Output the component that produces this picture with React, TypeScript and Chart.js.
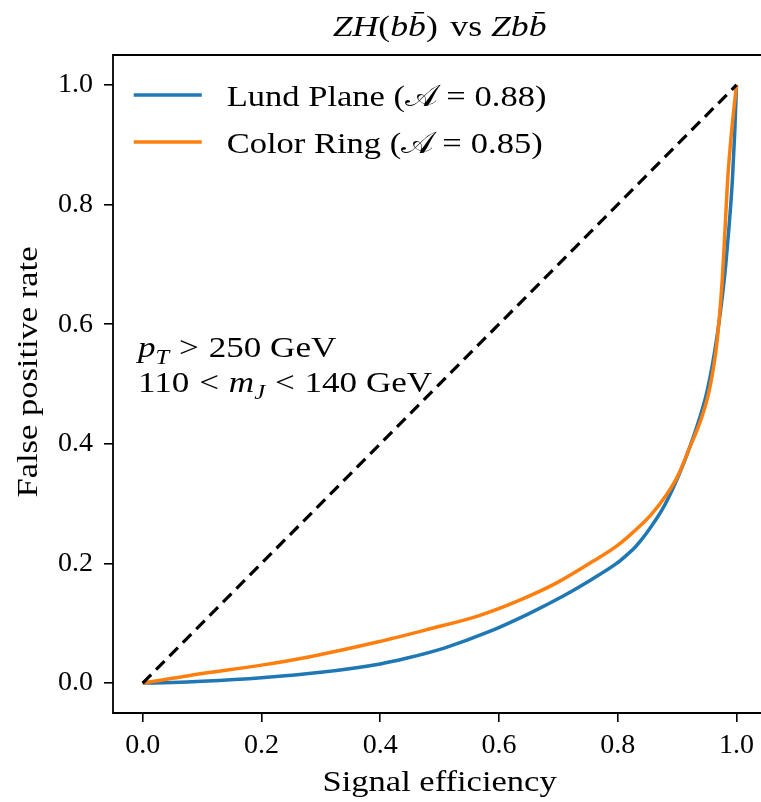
import React, { useEffect, useRef } from "react";
import { Chart, registerables } from "chart.js";
Chart.register(...registerables);

// ---- data ----
const tickValues = [0, 0.2, 0.4, 0.6, 0.8, 1.0];

const lundEff = [0, 0.05, 0.1, 0.2, 0.3, 0.4, 0.442, 0.509, 0.581, 0.648, 0.709, 0.754, 0.798, 0.815, 0.83, 0.848, 0.876, 0.895, 0.912, 0.932, 0.948, 0.959, 0.968, 0.976, 0.982, 0.988, 0.993, 0.997, 1.0];
const lundFpr = [0, 0.001, 0.003, 0.009, 0.018, 0.032, 0.041, 0.059, 0.085, 0.115, 0.146, 0.172, 0.200, 0.214, 0.228, 0.250, 0.292, 0.330, 0.370, 0.425, 0.478, 0.530, 0.585, 0.645, 0.70, 0.77, 0.84, 0.92, 1.0];

const ringEff = [0, 0.05, 0.1, 0.2, 0.286, 0.397, 0.481, 0.564, 0.631, 0.698, 0.759, 0.798, 0.82, 0.854, 0.881, 0.901, 0.92, 0.94, 0.952, 0.96, 0.966, 0.971, 0.976, 0.980, 0.985, 0.992, 1.0];
const ringFpr = [0, 0.008, 0.016, 0.030, 0.045, 0.069, 0.090, 0.112, 0.137, 0.168, 0.204, 0.229, 0.247, 0.279, 0.313, 0.346, 0.391, 0.44, 0.48, 0.52, 0.56, 0.61, 0.674, 0.745, 0.84, 0.925, 1.0];

const diagEff = [0, 1];
const diagFpr = [0, 1];

const seriesLabels = ["Lund Plane", "Color Ring"];
const aucValues = ["0.88", "0.85"];
const seriesColors = ["#1f77b4", "#ff7f0e"];

const FONT = '"Liberation Serif", "DejaVu Serif", serif';
const TXT = 30;
const HS = 1.15;

type Run = { t: string; it?: boolean; sub?: boolean; bar?: boolean; pre?: number; post?: number; fam?: string };

function runFont(r: Run, size: number) {
  const s = r.sub ? size * 0.7 : size;
  return `${r.it ? "italic " : ""}${s}px ${r.fam || FONT}`;
}

function drawRich(ctx: CanvasRenderingContext2D, runs: Run[], x: number, y: number, size: number, align: "left" | "center", hs: number) {
  ctx.save();
  ctx.textBaseline = "alphabetic";
  ctx.textAlign = "left";
  ctx.fillStyle = "#000";
  let total = 0;
  for (const r of runs) {
    ctx.font = runFont(r, size);
    total += (r.pre || 0) * size + ctx.measureText(r.t).width + (r.post || 0) * size;
  }
  const start = align === "center" ? x - (total * hs) / 2 : x;
  ctx.translate(start, y);
  ctx.scale(hs, 1);
  let cx = 0;
  for (const r of runs) {
    ctx.font = runFont(r, size);
    cx += (r.pre || 0) * size;
    const w = ctx.measureText(r.t).width;
    ctx.fillText(r.t, cx, r.sub ? size * 0.22 : 0);
    if (r.bar) {
      ctx.fillRect(cx + w * 0.35, -size * 0.8, w * 0.55, size * 0.05);
    }
    cx += w + (r.post || 0) * size;
  }
  ctx.restore();
}

const textPlugin = {
  id: "textPlugin",
  afterDatasetsDraw(chart: any) {
    const ctx: CanvasRenderingContext2D = chart.ctx;
    const a = chart.chartArea;
    ctx.save();
    ctx.strokeStyle = "#000";
    ctx.lineWidth = 1.8;
    ctx.beginPath();
    ctx.moveTo(a.right + 5, a.top);
    ctx.lineTo(a.left, a.top);
    ctx.lineTo(a.left, a.bottom);
    ctx.lineTo(a.right + 5, a.bottom);
    ctx.stroke();
    ctx.restore();
  },
  afterDraw(chart: any) {
    const ctx: CanvasRenderingContext2D = chart.ctx;
    const xs = chart.scales.x;
    // axes centre in data units (full axes span -0.05 .. 1.05)
    const cxMid = xs.getPixelForValue(0.5);

    // title
    drawRich(ctx, [
      { t: "Z", it: true }, { t: "H", it: true }, { t: "(" }, { t: "b", it: true }, { t: "b", it: true, bar: true }, { t: ")" },
      { t: " vs ", pre: 0.1 }, { t: "Z", it: true }, { t: "b", it: true }, { t: "b", it: true, bar: true },
    ], cxMid, 36, TXT, "center", 1.19);

    // legend
    const lx0 = xs.getPixelForValue(-0.01);
    const ys = [95, 142];
    for (let i = 0; i < 2; i++) {
      ctx.save();
      ctx.strokeStyle = seriesColors[i];
      ctx.lineWidth = 3.5;
      ctx.beginPath();
      ctx.moveTo(lx0 - 3, ys[i]);
      ctx.lineTo(lx0 + 65, ys[i]);
      ctx.stroke();
      ctx.restore();
      drawRich(ctx, [
        { t: seriesLabels[i] + " (" },
        { t: "\u{1D49C}", fam: '"DejaVu Serif", "DejaVu Sans", serif', post: 0.26 },
        { t: "=", post: 0.26 },
        { t: aucValues[i] + ")" },
      ], lx0 + 90, ys[i] + 11, TXT, "left", HS);
    }

    // annotation
    drawRich(ctx, [
      { t: "p", it: true }, { t: "T", it: true, sub: true, post: 0.28 }, { t: ">", post: 0.28 }, { t: "250 GeV" },
    ], 138, 357, TXT, "left", 1.17);
    drawRich(ctx, [
      { t: "110", post: 0.28 }, { t: "<", post: 0.28 }, { t: "m", it: true }, { t: "J", it: true, sub: true, post: 0.28 }, { t: "<", post: 0.28 }, { t: "140 GeV" },
    ], 138, 392, TXT, "left", 1.17);

    // axis titles
    drawRich(ctx, [{ t: "Signal efficiency" }], cxMid, 791, TXT, "center", HS);
    ctx.save();
    ctx.translate(37, 372);
    ctx.rotate(-Math.PI / 2);
    drawRich(ctx, [{ t: "False positive rate" }], 0, 0, TXT, "center", HS);
    ctx.restore();
  },
};

export default function App() {
  const ref = useRef<HTMLCanvasElement>(null);
  useEffect(() => {
    const canvas = ref.current!;
    const tickCfg = (pad: number) => ({
      font: { family: FONT, size: 28 },
      color: "#000",
      padding: pad,
      autoSkip: false,
      maxRotation: 0,
      callback: (v: any) => Number(v).toFixed(1),
    });
    const gridCfg = {
      display: true,
      drawOnChartArea: false,
      drawTicks: true,
      tickLength: 9,
      color: "#000",
      lineWidth: 1.6,
    };
    const chart = new Chart(canvas, {
      type: "scatter",
      data: {
        datasets: [
          {
            label: "diag",
            data: diagEff.map((x, i) => ({ x, y: diagFpr[i] })),
            borderColor: "#000",
            borderWidth: 3.2,
            borderDash: [12, 7],
            showLine: true,
            pointRadius: 0,
            order: 1,
          },
          {
            label: seriesLabels[0],
            data: lundEff.map((x, i) => ({ x, y: lundFpr[i] })),
            borderColor: seriesColors[0],
            borderWidth: 3.5,
            showLine: true,
            pointRadius: 0,
            cubicInterpolationMode: "monotone",
            order: 3,
          },
          {
            label: seriesLabels[1],
            data: ringEff.map((x, i) => ({ x, y: ringFpr[i] })),
            borderColor: seriesColors[1],
            borderWidth: 3.5,
            showLine: true,
            pointRadius: 0,
            cubicInterpolationMode: "monotone",
            order: 2,
          },
        ],
      } as any,
      options: {
        responsive: false,
        animation: false,
        devicePixelRatio: 1,
        events: [],
        layout: { padding: { left: 0, top: 55, right: 0, bottom: 0 } },
        plugins: { legend: { display: false }, title: { display: false }, tooltip: { enabled: false } },
        scales: {
          x: {
            type: "linear",
            min: -0.05,
            max: 1.0333,
            afterFit: (s: any) => { s.height = 89; },
            afterBuildTicks: (s: any) => { s.ticks = tickValues.map((v) => ({ value: v })); },
            grid: gridCfg,
            border: { display: false },
            ticks: tickCfg(7),
          },
          y: {
            type: "linear",
            min: -0.05,
            max: 1.05,
            afterFit: (s: any) => { s.width = 113; },
            afterBuildTicks: (s: any) => { s.ticks = tickValues.map((v) => ({ value: v })); },
            grid: gridCfg,
            border: { display: false },
            ticks: tickCfg(11),
          },
        },
      } as any,
      plugins: [textPlugin],
    });
    return () => chart.destroy();
  }, []);
  return (
    <div style={{ position: "fixed", left: 0, top: 0, width: 761, height: 802, overflow: "hidden", background: "#fff" }}>
      <canvas ref={ref} width={761} height={802} style={{ display: "block" }} />
    </div>
  );
}
